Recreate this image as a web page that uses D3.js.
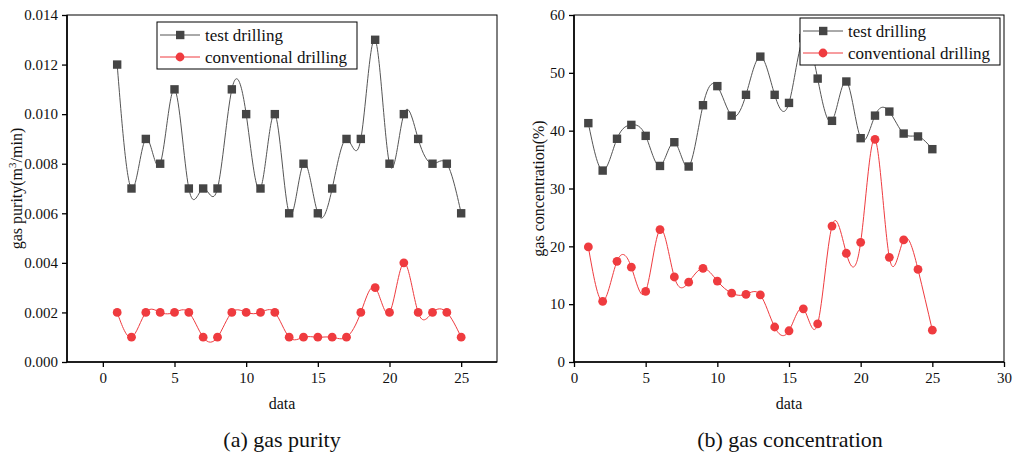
<!DOCTYPE html>
<html>
<head>
<meta charset="utf-8">
<script src="https://cdn.jsdelivr.net/npm/d3@7"></script>
</head>
<body style="margin:0">
<svg id="chart" width="1017" height="456"></svg>
<script>
// data
var xs = d3.range(1, 26);
var purityTest = [0.012, 0.007, 0.009, 0.008, 0.011, 0.007, 0.007, 0.007, 0.011, 0.010,
  0.007, 0.010, 0.006, 0.008, 0.006, 0.007, 0.009, 0.009, 0.013, 0.008,
  0.010, 0.009, 0.008, 0.008, 0.006];
var purityConv = [0.002, 0.001, 0.002, 0.002, 0.002, 0.002, 0.001, 0.001, 0.002, 0.002,
  0.002, 0.002, 0.001, 0.001, 0.001, 0.001, 0.001, 0.002, 0.003, 0.002,
  0.004, 0.002, 0.002, 0.002, 0.001];
var concTest = [41.3, 33.1, 38.6, 41.0, 39.1, 33.9, 38.0, 33.8, 44.4, 47.7,
  42.6, 46.2, 52.8, 46.2, 44.8, 56.0, 49.0, 41.7, 48.5, 38.7,
  42.6, 43.3, 39.5, 39.0, 36.8];
var concConv = [19.9, 10.5, 17.4, 16.4, 12.2, 22.9, 14.7, 13.8, 16.2, 14.0,
  11.9, 11.7, 11.6, 6.05, 5.4, 9.2, 6.6, 23.5, 18.8, 20.7,
  38.5, 18.1, 21.1, 16.0, 5.5];
var purityTicksY = d3.range(0, 0.0141, 0.002);
var purityTicksX = [0, 5, 10, 15, 20, 25];
var concTicksY = [0, 10, 20, 30, 40, 50, 60];
var concTicksX = [0, 5, 10, 15, 20, 25, 30];
var seriesNames = ["test drilling", "conventional drilling"];

var grey = "#454545", red = "#ef3b3f";
var svg = d3.select("#chart");

function serif(sel, size) {
  return sel.style("font-family", "'Times New Roman'").style("font-size", size + "px");
}

function drawPanel(opt) {
  var x = d3.scaleLinear().domain(opt.xDomain).range([opt.left, opt.right]);
  var y = d3.scaleLinear().domain(opt.yDomain).range([opt.bottom, opt.top]);
  var g = svg.append("g");

  // frame
  g.append("rect")
    .attr("x", opt.left).attr("y", opt.top)
    .attr("width", opt.right - opt.left).attr("height", opt.bottom - opt.top)
    .attr("fill", "none").attr("stroke", "#000").attr("stroke-width", 1);

  var xAxis = g.append("g")
    .attr("transform", "translate(0," + opt.bottom + ")")
    .call(d3.axisBottom(x).tickValues(opt.xTicks).tickSize(5).tickPadding(5));
  var yAxis = g.append("g")
    .attr("transform", "translate(" + opt.left + ",0)")
    .call(d3.axisLeft(y).tickValues(opt.yTicks).tickSize(5).tickPadding(4)
      .tickFormat(opt.yFormat));
  [xAxis, yAxis].forEach(function(a) {
    a.attr("font-family", null).attr("font-size", null);
    a.select(".domain").attr("stroke-width", 1.6).attr("d",
      a === xAxis ? "M" + opt.left + ",0H" + opt.right : "M0," + opt.top + "V" + opt.bottom);
    a.selectAll(".tick line").attr("stroke-width", 1.3);
    serif(a.selectAll("text"), 15).attr("fill", "#111");
  });

  var line = d3.line()
    .x(function(d, i) { return x(xs[i]); })
    .y(function(d) { return y(d); })
    .curve(d3.curveNatural);

  // lines
  g.append("path").datum(opt.test).attr("d", line)
    .attr("fill", "none").attr("stroke", "#555").attr("stroke-width", 1);
  g.append("path").datum(opt.conv).attr("d", line)
    .attr("fill", "none").attr("stroke", red).attr("stroke-width", 1);

  // markers
  g.selectAll(".sq").data(opt.test).enter().append("rect")
    .attr("x", function(d, i) { return x(xs[i]) - 4.2; })
    .attr("y", function(d) { return y(d) - 4.2; })
    .attr("width", 8.4).attr("height", 8.4).attr("fill", grey);
  g.selectAll(".ci").data(opt.conv).enter().append("circle")
    .attr("cx", function(d, i) { return x(xs[i]); })
    .attr("cy", function(d) { return y(d); })
    .attr("r", 4.4).attr("fill", red);

  // legend
  var lg = g.append("g").attr("transform", "translate(" + opt.legX + "," + opt.legY + ")");
  lg.append("rect").attr("width", opt.legW).attr("height", 47)
    .attr("fill", "#fff").attr("stroke", "#000").attr("stroke-width", 1);
  seriesNames.forEach(function(name, i) {
    var cy = 13 + i * 22;
    lg.append("line").attr("x1", 3).attr("x2", 43).attr("y1", cy).attr("y2", cy)
      .attr("stroke", i === 0 ? "#555" : red).attr("stroke-width", 1);
    if (i === 0) {
      lg.append("rect").attr("x", 19).attr("y", cy - 4.2).attr("width", 8.4).attr("height", 8.4)
        .attr("fill", grey);
    } else {
      lg.append("circle").attr("cx", 23).attr("cy", cy).attr("r", 4.4).attr("fill", red);
    }
    serif(lg.append("text"), 17).attr("x", 48).attr("y", cy + 5.5)
      .attr("fill", "#111").text(name);
  });

  // axis titles
  serif(svg.append("text"), 16)
    .attr("x", (opt.left + opt.right) / 2).attr("y", 409)
    .attr("text-anchor", "middle").attr("fill", "#111").text("data");
  var yt = serif(svg.append("text"), 16)
    .attr("transform", "translate(" + opt.yTitleX + "," + ((opt.top + opt.bottom) / 2) + ") rotate(-90)")
    .attr("text-anchor", "middle").attr("fill", "#111");
  opt.yTitle(yt);

  serif(svg.append("text"), 22)
    .attr("x", opt.capX).attr("y", 447)
    .attr("text-anchor", "middle").attr("fill", "#111").text(opt.caption);
}

drawPanel({
  left: 67, right: 497, top: 15, bottom: 362,
  xDomain: [-2.5, 27.5], yDomain: [0, 0.014],
  xTicks: purityTicksX, yTicks: purityTicksY,
  yFormat: d3.format(".3f"),
  test: purityTest, conv: purityConv,
  legX: 157, legY: 22, legW: 200,
  yTitleX: 22,
  yTitle: function(t) {
    t.append("tspan").text("gas purity(m");
    t.append("tspan").attr("baseline-shift", "super").style("font-size", "11px").text("3");
    t.append("tspan").text("/min)");
  },
  capX: 282, caption: "(a) gas purity"
});

drawPanel({
  left: 574, right: 1004, top: 15, bottom: 362,
  xDomain: [0, 30], yDomain: [0, 60],
  xTicks: concTicksX, yTicks: concTicksY,
  yFormat: d3.format("d"),
  test: concTest, conv: concConv,
  legX: 800, legY: 18, legW: 200,
  yTitleX: 544,
  yTitle: function(t) { t.text("gas concentration(%)"); },
  capX: 790, caption: "(b) gas concentration"
});
</script>
</body>
</html>
